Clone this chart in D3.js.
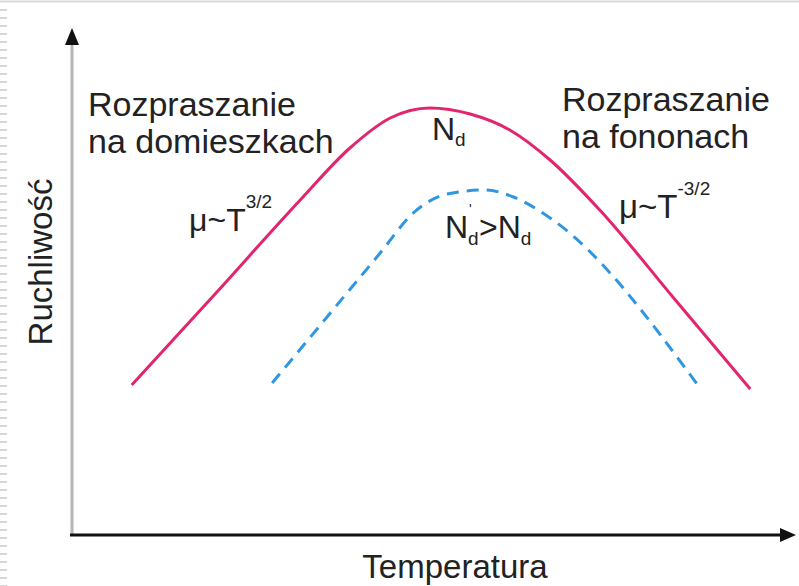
<!DOCTYPE html>
<html>
<head>
<meta charset="utf-8">
<script src="https://cdn.jsdelivr.net/npm/d3@7"></script>
<style>
  html, body { margin: 0; padding: 0; background: #fff; }
  svg { display: block; font-family: "Liberation Sans", Arial, sans-serif; }
</style>
</head>
<body>
<svg id="chart" width="799" height="586"></svg>
<script>
// Mobility vs temperature, qualitative curves (arbitrary units)
const tempBase = [0.83, 2.00, 3.17, 3.86, 4.42, 4.97, 5.53, 6.08, 6.64, 7.33, 8.38, 9.42];
const mobBase  = [2.96, 4.80, 6.66, 7.70, 8.30, 8.50, 8.38, 8.06, 7.46, 6.46, 4.66, 2.88];

const tempDoped = [2.78, 4.28, 4.74, 5.21, 5.74, 6.13, 6.68, 8.68];
const mobDoped  = [3.00, 5.60, 6.40, 6.78, 6.86, 6.72, 6.26, 2.98];

const axisLabels = { x: "Temperatura", y: "Ruchliwość" };

const svg = d3.select("#chart");
const W = 799, H = 586;

const x = d3.scaleLinear().domain([0, 10]).range([72, 792]);
const y = d3.scaleLinear().domain([0, 10]).range([533, 33]);

// frame decoration: top rule and left edge ticks
svg.append("line")
  .attr("x1", 0).attr("x2", W).attr("y1", 1.5).attr("y2", 1.5)
  .attr("stroke", "#d9d9d9").attr("stroke-width", 2);
svg.append("g").selectAll("rect")
  .data(d3.range(9, H, 8))
  .join("rect")
  .attr("x", 0).attr("y", d => d).attr("width", 7).attr("height", 2)
  .attr("fill", "#d6d6d6");

// axes with arrowheads
const x0 = x(0), y0 = y(0);
svg.append("line")
  .attr("x1", x0).attr("x2", x0).attr("y1", y0 + 1).attr("y2", 44)
  .attr("stroke", "#b5b5b5").attr("stroke-width", 3);
svg.append("path")
  .attr("d", `M${x0},28 L${x0 - 7},45 L${x0 + 7},45 Z`)
  .attr("fill", "#111");
svg.append("line")
  .attr("x1", x0 - 2).attr("x2", 782).attr("y1", y0 + 2).attr("y2", y0 + 2)
  .attr("stroke", "#111").attr("stroke-width", 3);
svg.append("path")
  .attr("d", `M796,${y0 + 2} L780,${y0 - 5} L780,${y0 + 9} Z`)
  .attr("fill", "#111");

// curves
const line = d3.line()
  .x(d => x(d[0])).y(d => y(d[1]))
  .curve(d3.curveMonotoneX);

svg.append("path")
  .datum(d3.zip(tempBase, mobBase))
  .attr("d", line)
  .attr("fill", "none")
  .attr("stroke", "#e3246f")
  .attr("stroke-width", 3);

svg.append("path")
  .datum(d3.zip(tempDoped, mobDoped))
  .attr("d", line)
  .attr("fill", "none")
  .attr("stroke", "#3096e0")
  .attr("stroke-width", 3)
  .attr("stroke-dasharray", "12,8");

// text
const txt = (xx, yy, size) => svg.append("text")
  .attr("x", xx).attr("y", yy)
  .attr("font-size", size).attr("fill", "#222");

txt(88, 116, 34).text("Rozpraszanie");
txt(88, 153, 34).text("na domieszkach");
txt(562, 111, 34).text("Rozpraszanie");
txt(562, 148, 34).text("na fononach");

// N_d at the peak
const nd = txt(432, 140, 32);
nd.append("tspan").text("N");
nd.append("tspan").attr("font-size", 19).attr("dy", 6).text("d");

// N'_d > N_d, built from separate pieces
txt(445, 238, 32).text("N");
txt(469, 214, 14).text("'");
txt(468, 245, 19).text("d");
const gt = txt(479, 238, 32);
gt.append("tspan").text(">N");
gt.append("tspan").attr("font-size", 19).attr("dy", 7).text("d");

// mobility laws
const lawL = txt(189, 231, 32);
lawL.append("tspan").text("μ~T");
lawL.append("tspan").attr("font-size", 19).attr("dy", -23).text("3/2");

const lawR = txt(619, 218, 33);
lawR.append("tspan").text("μ~T");
lawR.append("tspan").attr("font-size", 19).attr("dy", -23).text("-3/2");

// axis titles
txt(455, 578, 33).attr("text-anchor", "middle").text(axisLabels.x);
svg.append("text")
  .attr("transform", "translate(52,262) rotate(-90)")
  .attr("text-anchor", "middle")
  .attr("font-size", 33).attr("fill", "#222")
  .text(axisLabels.y);
</script>
</body>
</html>
